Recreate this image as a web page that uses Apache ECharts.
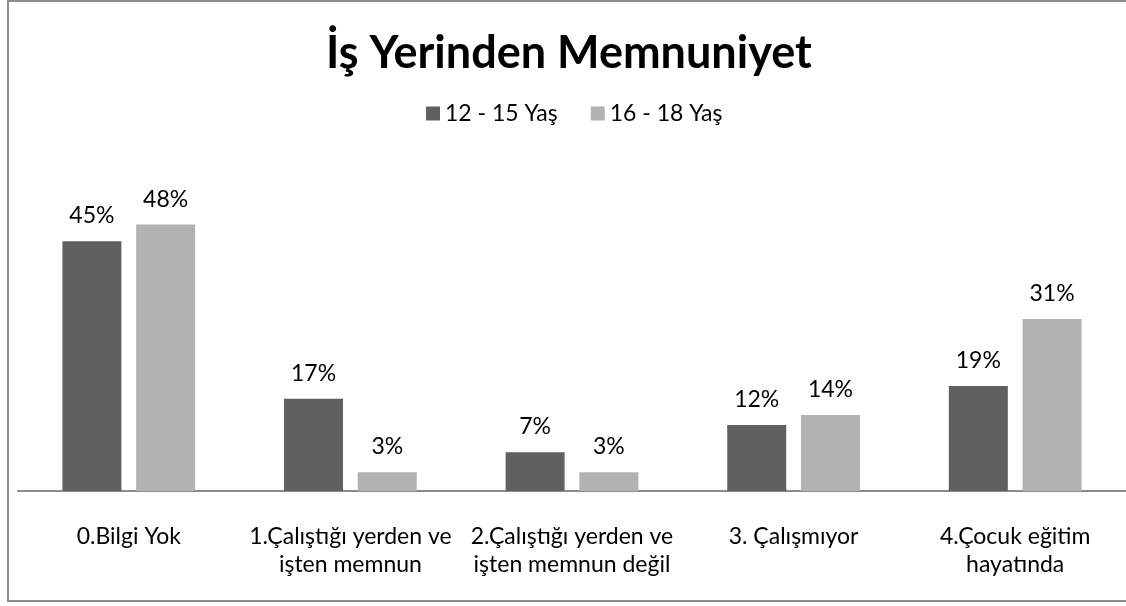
<!DOCTYPE html>
<html>
<head>
<meta charset="utf-8">
<script src="https://cdn.jsdelivr.net/npm/echarts@6/dist/echarts.min.js"></script>
<style>
  html, body { margin: 0; padding: 0; background: #fff; }
  #chart { width: 1126px; height: 606px; }
</style>
</head>
<body>
<div id="chart"></div>
<script>
// kategoriler ve seriler
var categories = [
    '0.Bilgi Yok',
    '1.Çalıştığı yerden ve\nişten memnun',
    '2.Çalıştığı yerden ve\nişten memnun değil',
    '3. Çalışmıyor',
    '4.Çocuk eğitim\nhayatında'
];
var seriesNames = ['12 - 15 Yaş', '16 - 18 Yaş'];
var values1215 = [45.0, 16.6, 7.0, 11.9, 18.9];
var values1618 = [48.0, 3.4, 3.4, 13.7, 31.0];

var fontName = 'Lato';
var _chart = echarts.init(document.getElementById('chart'));

function barSeries(name, data, color) {
    return {
        name: name,
        type: 'bar',
        data: data,
        barWidth: 59,
        barGap: '25%',
        itemStyle: { color: color },
        label: {
            show: true,
            position: 'top',
            distance: 14,
            color: '#000',
            fontFamily: fontName,
            fontSize: 23,
            formatter: function(p) { return Math.round(p.value) + '%'; }
        }
    };
}

var _option = {
    animation: false,
    title: {
        text: 'İş Yerinden Memnuniyet',
        left: 321,
        top: 26,
        textStyle: { fontFamily: fontName, fontWeight: 'bold', fontSize: 45, color: '#000' }
    },
    legend: {
        data: seriesNames,
        top: 97,
        left: 421,
        itemWidth: 14,
        itemHeight: 14,
        itemGap: 33,
        icon: 'rect',
        textStyle: { fontFamily: fontName, fontSize: 23, color: '#000' }
    },
    graphic: [{
        type: 'rect',
        shape: { x: 8, y: 1, width: 1130, height: 600 },
        style: { fill: null, stroke: '#8c8c8c', lineWidth: 2 },
        silent: true
    }],
    grid: { left: 18, right: -3, top: 213.5, bottom: 115, containLabel: false },
    xAxis: {
        type: 'category',
        data: categories,
        axisLine: { lineStyle: { color: '#8c8c8c', width: 2 } },
        axisTick: { show: false },
        axisLabel: {
            interval: 0,
            hideOverlap: false,
            margin: 32,
            lineHeight: 28,
            color: '#000',
            fontFamily: fontName,
            fontSize: 23
        }
    },
    yAxis: {
        type: 'value',
        min: 0,
        max: 50,
        show: false
    },
    series: [
        barSeries(seriesNames[0], values1215, '#606060'),
        barSeries(seriesNames[1], values1618, '#b2b2b2')
    ]
};
_chart.setOption(_option);
</script>
</body>
</html>
